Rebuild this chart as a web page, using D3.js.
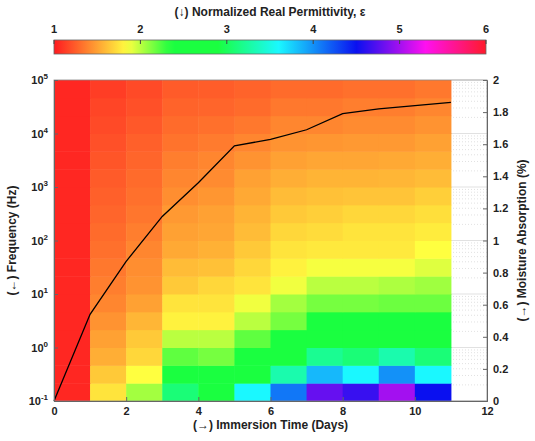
<!DOCTYPE html>
<html><head><meta charset="utf-8">
<script src="https://cdn.jsdelivr.net/npm/d3@7"></script>
<style>body{margin:0;background:#fff}text{font-family:"Liberation Sans",Arial,sans-serif;font-weight:bold}</style>
</head><body><svg id="c" width="535" height="441"></svg>
<script>
const days = [0,1,2,3,4,5,6,7,8,9,10,11];
const moisture = [0,0.54,0.87,1.15,1.36,1.59,1.63,1.69,1.79,1.82,1.84,1.86];
// permittivity rows from lowest frequency band (10^-1) upward; columns = day 0..10
const perm = [
 [1.05,1.75,2.05,3.1,2.8,3.6,4.1,4.8,4.65,5.0,4.5],
 [1.05,1.65,1.85,2.6,2.6,2.7,3.3,3.85,3.6,4.0,3.6],
 [1.05,1.55,1.7,2.2,2.15,2.5,2.6,3.2,3.1,3.3,3.1],
 [1.05,1.5,1.65,2.0,2.0,2.2,2.5,2.6,2.6,2.6,2.6],
 [1.05,1.45,1.58,1.8,1.8,2.0,2.15,2.45,2.45,2.45,2.45],
 [1.05,1.4,1.5,1.75,1.75,1.88,2.05,2.15,2.15,2.17,2.17],
 [1.05,1.37,1.45,1.65,1.7,1.75,1.88,2.0,2.0,2.03,2.06],
 [1.05,1.35,1.43,1.6,1.62,1.7,1.8,1.87,1.87,1.87,1.92],
 [1.05,1.32,1.4,1.53,1.56,1.65,1.75,1.77,1.77,1.77,1.85],
 [1.05,1.3,1.37,1.5,1.52,1.6,1.7,1.72,1.75,1.75,1.78],
 [1.05,1.28,1.34,1.47,1.5,1.57,1.65,1.67,1.7,1.7,1.73],
 [1.05,1.26,1.32,1.43,1.46,1.53,1.6,1.62,1.63,1.63,1.67],
 [1.05,1.24,1.3,1.4,1.42,1.5,1.55,1.57,1.57,1.58,1.6],
 [1.05,1.22,1.28,1.37,1.4,1.45,1.5,1.52,1.52,1.53,1.55],
 [1.05,1.2,1.26,1.33,1.36,1.4,1.45,1.46,1.47,1.47,1.5],
 [1.05,1.18,1.23,1.3,1.32,1.35,1.4,1.4,1.42,1.42,1.45],
 [1.05,1.16,1.2,1.27,1.28,1.3,1.35,1.35,1.37,1.37,1.4],
 [1.05,1.13,1.18,1.24,1.25,1.27,1.3,1.3,1.32,1.32,1.35]
];
const xTicks = [0,2,4,6,8,10,12];
const yTicksRight = [0,0.2,0.4,0.6,0.8,1,1.2,1.4,1.6,1.8,2];
const yExps = [-1,0,1,2,3,4,5];
const cbTicks = [1,2,3,4,5,6];

const svg = d3.select("#c");
const L=54,R=487,T=80,B=401;
const x = d3.scaleLinear().domain([0,12]).range([L,R]);
const y = d3.scaleLog().domain([0.1,1e5]).range([B,T]);
const y2 = d3.scaleLinear().domain([0,2]).range([B,T]);
const color = d3.scaleLinear()
  .domain([1,1.85,2.35,2.9,3.6,4.5,5.3,6])
  .range(["#ff1a20","#ffff40","#1aff40","#1aff40","#1af8ff","#0a10f0","#ff10f0","#ff1a2a"]);

// grid (visible only right of heatmap)
const g = svg.append("g");
for(let e=-1;e<5;e++) for(let m=1;m<10;m++){
  const v=m*Math.pow(10,e);
  g.append("line").attr("x1",L).attr("x2",R).attr("y1",y(v)).attr("y2",y(v))
   .attr("stroke","#ccc").attr("stroke-width",0.6).attr("stroke-dasharray",m==1?null:"1,2");
}
// heatmap
perm.forEach((row,r)=>row.forEach((v,c)=>{
  const y0=y(Math.pow(10,-1+r/3)), y1=y(Math.pow(10,-1+(r+1)/3));
  svg.append("rect").attr("x",x(days[c])).attr("width",x(days[c+1])-x(days[c])+0.5)
   .attr("y",y1).attr("height",y0-y1+0.5).attr("fill",color(v));
}));
// line
svg.append("path").datum(days.map((d,i)=>[d,moisture[i]]))
  .attr("d",d3.line().x(d=>x(d[0])).y(d=>y2(d[1])))
  .attr("fill","none").attr("stroke","#000").attr("stroke-width",1.3);
// frame
svg.append("rect").attr("x",L).attr("y",T).attr("width",R-L).attr("height",B-T)
  .attr("fill","none").attr("stroke","#888").attr("stroke-width",0.8);

// axes
const ax = svg.append("g").attr("transform",`translate(0,${B})`)
  .call(d3.axisBottom(x).tickValues(xTicks).tickSize(-4).tickPadding(6));
const ay2 = svg.append("g").attr("transform",`translate(${R},0)`)
  .call(d3.axisRight(y2).tickValues(yTicksRight).tickFormat(d3.format("~g")).tickSize(-4).tickPadding(6));
const ay = svg.append("g").attr("transform",`translate(${L},0)`)
  .call(d3.axisLeft(y).tickValues(yExps.map(e=>Math.pow(10,e))).tickFormat("").tickSize(-4));
[ax,ay2,ay].forEach(a=>{a.select(".domain").attr("stroke","#666");a.selectAll("line").attr("stroke","#666");
  a.selectAll("text").attr("font-size",11).attr("fill","#222").attr("font-weight","bold");});
yExps.forEach(e=>{
  const t=svg.append("text").attr("x",L-6).attr("y",y(Math.pow(10,e))+4).attr("text-anchor","end")
   .attr("font-size",11).attr("fill","#222");
  t.append("tspan").text("10");
  t.append("tspan").attr("dy",-5).attr("font-size",8).text(e);
});
svg.append("text").attr("x",(L+R)/2).attr("y",429).attr("text-anchor","middle").attr("font-size",12)
  .attr("fill","#222").text("(→) Immersion Time (Days)");
svg.append("text").attr("transform",`translate(16,${(T+B)/2}) rotate(-90)`).attr("text-anchor","middle")
  .attr("font-size",12).attr("fill","#222").text("(←) Frequency (Hz)");
svg.append("text").attr("transform",`translate(526,${(T+B)/2}) rotate(-90)`).attr("text-anchor","middle")
  .attr("font-size",12).attr("fill","#222").text("(→) Moisture Absorption (%)");

// colorbar
const cx = d3.scaleLinear().domain([1,6]).range([54,486]);
const defs=svg.append("defs");
const grad=defs.append("linearGradient").attr("id","cb");
d3.range(0,1.0001,0.02).forEach(f=>grad.append("stop").attr("offset",f).attr("stop-color",color(1+5*f)));
svg.append("rect").attr("x",54).attr("y",40).attr("width",432).attr("height",14)
  .attr("fill","url(#cb)").attr("stroke","#666").attr("stroke-width",0.8);
cbTicks.forEach(v=>{
  svg.append("line").attr("x1",cx(v)).attr("x2",cx(v)).attr("y1",40).attr("y2",44).attr("stroke","#444");
  svg.append("text").attr("x",cx(v)).attr("y",33).attr("text-anchor","middle").attr("font-size",11)
   .attr("fill","#222").text(v);
});
svg.append("text").attr("x",270).attr("y",16).attr("text-anchor","middle").attr("font-size",12)
  .attr("fill","#222").text("(↓) Normalized Real Permittivity, ε");
</script></body></html>
